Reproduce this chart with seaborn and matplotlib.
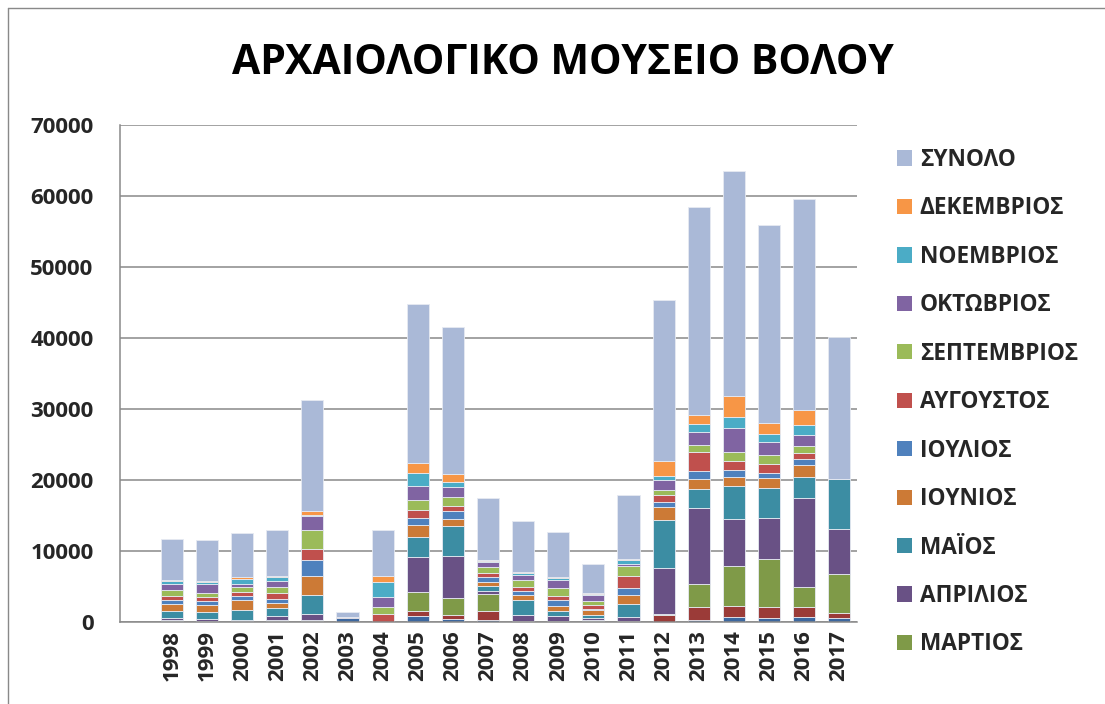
import pandas as pd
import seaborn as sns
import matplotlib.pyplot as plt
from matplotlib.patches import Patch
from matplotlib.lines import Line2D

# Δεδομένα επισκεπτών ανά μήνα (εκτίμηση από το γράφημα)
years = list(range(1998, 2018))

ian = [100, 50, 50, 80, 50, 620, 0, 800, 380, 230, 50, 30, 80, 50, 30, 250, 700, 610, 660, 560]
feb = [80, 50, 50, 60, 50, 20, 0, 800, 660, 1280, 50, 30, 100, 50, 900, 1880, 1500, 1460, 1460, 700]
mar = [150, 50, 50, 100, 230, 20, 0, 2640, 2400, 2450, 50, 40, 150, 50, 190, 3190, 5700, 6750, 2860, 5490]
apr = [200, 340, 190, 580, 860, 20, 0, 4850, 5900, 340, 850, 800, 190, 500, 6490, 10700, 6630, 5870, 12420, 6340]
mai = [1050, 960, 1330, 1150, 2650, 10, 0, 2820, 4140, 710, 2150, 600, 530, 1850, 6730, 2640, 4600, 4130, 3050, 6980]
iun = [960, 960, 1480, 760, 2700, 10, 0, 1690, 1050, 670, 650, 700, 580, 1250, 1920, 1500, 1310, 1500, 1600, 0]
iul = [530, 540, 530, 480, 2180, 0, 0, 990, 1100, 670, 560, 850, 240, 1100, 700, 1080, 990, 700, 890, 0]
avg = [570, 510, 530, 810, 1520, 0, 1150, 1220, 760, 530, 500, 600, 530, 1600, 890, 2680, 1220, 1170, 800, 0]
sep = [860, 560, 670, 960, 2650, 0, 1000, 1360, 1240, 810, 1000, 1100, 580, 1400, 750, 1030, 1270, 1270, 1030, 0]
okt = [900, 1320, 530, 810, 2090, 0, 1400, 1920, 1340, 760, 700, 1200, 760, 350, 1360, 1780, 3380, 1880, 1500, 0]
noe = [400, 290, 670, 530, 50, 0, 2150, 1920, 810, 150, 400, 300, 240, 560, 610, 1220, 1640, 1170, 1410, 0]
dek = [50, 150, 190, 140, 570, 0, 800, 1360, 1000, 150, 150, 100, 100, 120, 2110, 1270, 2820, 1460, 2110, 0]
synolo = [5850, 5780, 6270, 6460, 15600, 700, 6500, 22370, 20780, 8750, 7110, 6300, 4080, 8940,
          22680, 29220, 31760, 27970, 29790, 20070]

series = {
    "ΙΑΝΟΥΑΡΙΟΣ": ian, "ΦΕΒΡΟΥΑΡΙΟΣ": feb, "ΜΑΡΤΙΟΣ": mar, "ΑΠΡΙΛΙΟΣ": apr,
    "ΜΑΪΟΣ": mai, "ΙΟΥΝΙΟΣ": iun, "ΙΟΥΛΙΟΣ": iul, "ΑΥΓΟΥΣΤΟΣ": avg,
    "ΣΕΠΤΕΜΒΡΙΟΣ": sep, "ΟΚΤΩΒΡΙΟΣ": okt, "ΝΟΕΜΒΡΙΟΣ": noe, "ΔΕΚΕΜΒΡΙΟΣ": dek,
    "ΣΥΝΟΛΟ": synolo,
}
colors = ["#3C679F", "#9B3B38", "#7F9A48", "#695185", "#3C8DA3", "#CC7A36", "#4F81BD",
          "#C0504D", "#9BBB59", "#8064A2", "#4BACC6", "#F79646", "#AAB9D7"]
palette = dict(zip(series.keys(), colors))

df = pd.DataFrame(
    [(y, name, v) for name, vals in series.items() for y, v in zip(years, vals)],
    columns=["etos", "minas", "episkeptes"],
)

sns.set_theme(style="white")
plt.rcParams["font.family"] = ["Open Sans", "DejaVu Sans"]
plt.rcParams["font.weight"] = "bold"

fig = plt.figure(figsize=(11.05, 7.04), dpi=100)
ax = fig.add_axes([0.1086, 0.1165, 0.667, 0.706])

# seaborn στοιβάζει το πρώτο επίπεδο hue στην κορυφή
sns.histplot(
    data=df, x="etos", weights="episkeptes", hue="minas",
    hue_order=list(series.keys())[::-1], palette=palette,
    multiple="stack", discrete=True, shrink=0.63, alpha=1,
    edgecolor="#E6EAF2", linewidth=0.6, legend=False, ax=ax,
)

ax.set_xlim(1996.52, 2017.51)
ax.set_ylim(0, 70000)
ax.set_yticks(range(0, 70001, 10000))
ax.set_xticks(years)
ax.set_xticklabels([str(y) for y in years], rotation=90)
ax.set_xlabel("")
ax.set_ylabel("")
ax.yaxis.grid(True, color="#898989", linewidth=1.1)
ax.set_axisbelow(True)
for s in ["top", "right"]:
    ax.spines[s].set_visible(False)
for s in ["left", "bottom"]:
    ax.spines[s].set_color("#898989")
    ax.spines[s].set_linewidth(1.1)
ax.tick_params(axis="y", length=0, pad=19, labelsize=16)
ax.tick_params(axis="x", length=0, pad=6, labelsize=16)
for lab in ax.get_xticklabels() + ax.get_yticklabels():
    lab.set_fontweight("bold")

fig.text(0.509, 0.91, "ΑΡΧΑΙΟΛΟΓΙΚΟ ΜΟΥΣΕΙΟ ΒΟΛΟΥ", ha="center", va="center",
         fontsize=29.5, fontweight="bold", color="black")

# υπόμνημα (ορατές εγγραφές μόνο)
shown = ["ΣΥΝΟΛΟ", "ΔΕΚΕΜΒΡΙΟΣ", "ΝΟΕΜΒΡΙΟΣ", "ΟΚΤΩΒΡΙΟΣ", "ΣΕΠΤΕΜΒΡΙΟΣ", "ΑΥΓΟΥΣΤΟΣ",
         "ΙΟΥΛΙΟΣ", "ΙΟΥΝΙΟΣ", "ΜΑΪΟΣ", "ΑΠΡΙΛΙΟΣ", "ΜΑΡΤΙΟΣ"]
handles = [Patch(facecolor=palette[m], edgecolor="none", label=m) for m in shown]
fig.legend(handles=handles, loc="upper left", bbox_to_anchor=(897 / 1105, 1 - 148 / 704),
           frameon=False, borderpad=0, borderaxespad=0, handlelength=0.66, handleheight=0.66,
           handletextpad=0.35, labelspacing=1.08, prop={"size": 16.3, "weight": "bold"})

# πλαίσιο γραφήματος
fig.add_artist(Line2D([8 / 1105, 8 / 1105], [0, 1 - 8 / 704], transform=fig.transFigure,
                      color="#898989", linewidth=1))
fig.add_artist(Line2D([8 / 1105, 1], [1 - 8 / 704, 1 - 8 / 704], transform=fig.transFigure,
                      color="#898989", linewidth=1))

fig.savefig("out.png", dpi=100)
plt.close(fig)
